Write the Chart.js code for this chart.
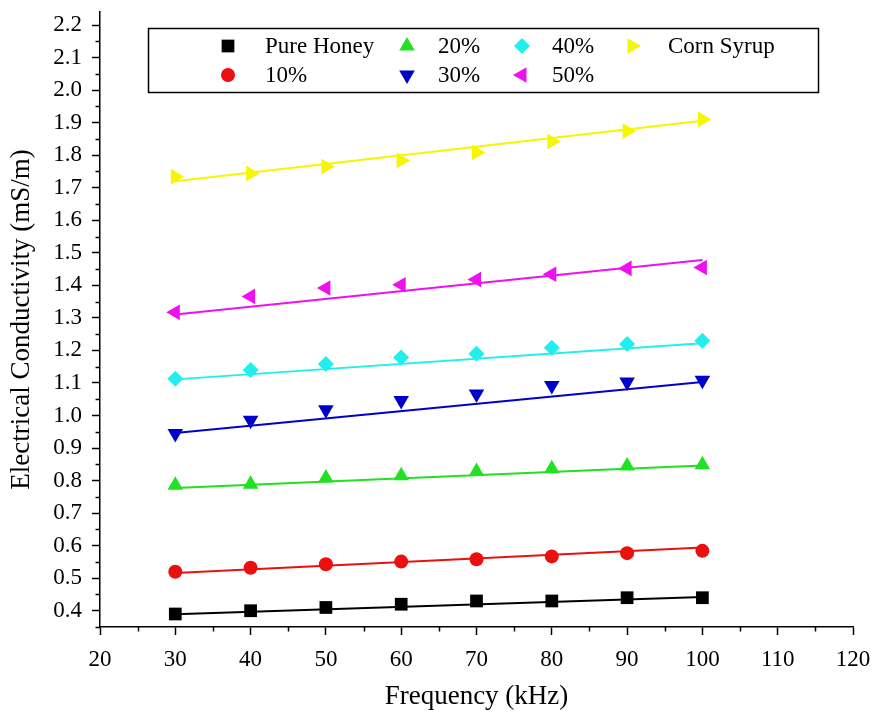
<!DOCTYPE html>
<html>
<head>
<meta charset="utf-8">
<script src="https://cdn.jsdelivr.net/npm/chart.js@4/dist/chart.umd.min.js"></script>
<style>
  html, body { margin: 0; padding: 0; background: #ffffff; }
  #wrap { width: 879px; height: 719px; }
</style>
</head>
<body>
<div id="wrap"><canvas id="c" width="879" height="719"></canvas></div>
<script>
// ---- data ----
const frequencies = [30, 40, 50, 60, 70, 80, 90, 100];
const pureHoney  = [0.390, 0.400, 0.410, 0.420, 0.430, 0.430, 0.440, 0.440];
const honey10    = [0.520, 0.532, 0.543, 0.551, 0.558, 0.567, 0.577, 0.584];
const honey20    = [0.786, 0.789, 0.808, 0.815, 0.828, 0.836, 0.845, 0.849];
const honey30    = [0.945, 0.985, 1.018, 1.046, 1.066, 1.092, 1.103, 1.108];
const honey40    = [1.113, 1.140, 1.158, 1.178, 1.190, 1.208, 1.220, 1.230];
const honey50    = [1.317, 1.366, 1.392, 1.402, 1.418, 1.434, 1.452, 1.455];
const cornSyrup  = [1.734, 1.744, 1.765, 1.784, 1.808, 1.842, 1.874, 1.910];

// fitted line end values (at 30 kHz and 100 kHz)
const fitFreq  = [30, 100];
const fitHoney = [0.389, 0.442];
const fit10    = [0.516, 0.594];
const fit20    = [0.777, 0.846];
const fit30    = [0.946, 1.103];
const fit40    = [1.111, 1.222];
const fit50    = [1.310, 1.478];
const fitCorn  = [1.720, 1.906];

const seriesNames = ['Pure Honey', '10%', '20%', '30%', '40%', '50%', 'Corn Syrup'];

// tick labels
const xTicks = [20, 30, 40, 50, 60, 70, 80, 90, 100, 110, 120];
const yTicks = [0.4, 0.5, 0.6, 0.7, 0.8, 0.9, 1.0, 1.1, 1.2, 1.3, 1.4, 1.5, 1.6, 1.7, 1.8, 1.9, 2.0, 2.1, 2.2];

// ---- styling ----
const FONT = "'Liberation Serif', 'Times New Roman', serif";
const colors = ['#000000', '#ea1010', '#22e022', '#0000cc', '#22eeee', '#ee10ee', '#f6f600'];
const markers = [
  { style: 'rect', rot: 0, r: 9 },
  { style: 'circle', rot: 0, r: 7 },
  { style: 'triangle', rot: 0, r: 9 },
  { style: 'triangle', rot: 180, r: 9 },
  { style: 'rectRot', rot: 0, r: 8 },
  { style: 'triangle', rot: 270, r: 9 },
  { style: 'triangle', rot: 90, r: 9 }
];
const seriesValues = [pureHoney, honey10, honey20, honey30, honey40, honey50, cornSyrup];
const fitValues = [fitHoney, fit10, fit20, fit30, fit40, fit50, fitCorn];

const datasets = [];
seriesValues.forEach((vals, i) => {
  datasets.push({
    label: seriesNames[i] + ' fit',
    data: fitFreq.map((f, k) => ({ x: f, y: fitValues[i][k] })),
    borderColor: colors[i],
    borderWidth: 2,
    pointRadius: 0,
    showLine: true,
    fill: false,
    order: 2
  });
  datasets.push({
    label: seriesNames[i],
    data: frequencies.map((f, k) => ({ x: f, y: vals[k] })),
    showLine: false,
    pointStyle: markers[i].style,
    rotation: markers[i].rot,
    pointRadius: markers[i].r,
    pointBackgroundColor: colors[i],
    pointBorderColor: colors[i],
    pointBorderWidth: 0,
    order: 1
  });
});

// minor ticks (halfway between major ticks) + custom legend
const extrasPlugin = {
  id: 'extras',
  afterDraw(chart) {
    const ctx = chart.ctx;
    const xs = chart.scales.x, ys = chart.scales.y;
    ctx.save();
    ctx.strokeStyle = '#000';
    ctx.lineWidth = 1.5;
    const yMinor = [];
    yMinor.push(yTicks[0] - 0.05);
    for (let k = 0; k < yTicks.length - 1; k++) yMinor.push((yTicks[k] + yTicks[k + 1]) / 2);
    yMinor.forEach(v => {
      if (v < ys.min - 1e-9 || v > ys.max + 1e-9) return;
      const py = Math.round(ys.getPixelForValue(v)) + 0.5;
      ctx.beginPath();
      ctx.moveTo(ys.right, py);
      ctx.lineTo(ys.right - 4.5, py);
      ctx.stroke();
    });
    for (let k = 0; k < xTicks.length - 1; k++) {
      const v = (xTicks[k] + xTicks[k + 1]) / 2;
      const px = Math.round(xs.getPixelForValue(v)) + 0.5;
      ctx.beginPath();
      ctx.moveTo(px, xs.top);
      ctx.lineTo(px, xs.top + 4.5);
      ctx.stroke();
    }
    // legend box
    const box = { l: 148, t: 28, r: 818, b: 92 };
    ctx.lineWidth = 1.5;
    ctx.strokeRect(box.l + 0.5, box.t + 0.5, box.r - box.l, box.b - box.t);
    const colMarkerX = [228, 407, 522, 632];
    const colTextX = [265, 438, 552, 668];
    const rowY = [46, 75];
    ctx.font = '23px ' + FONT;
    ctx.textBaseline = 'middle';
    ctx.textAlign = 'left';
    seriesNames.forEach((name, i) => {
      const col = Math.floor(i / 2), row = i % 2;
      const mx = colMarkerX[col], my = rowY[row];
      ctx.fillStyle = colors[i];
      ctx.strokeStyle = colors[i];
      Chart.helpers.drawPoint(ctx, {
        pointStyle: markers[i].style,
        rotation: markers[i].rot,
        radius: markers[i].r,
        borderWidth: 0
      }, mx, my);
      ctx.fillStyle = '#000';
      ctx.fillText(name, colTextX[col], my + 1);
    });
    ctx.restore();
  }
};

new Chart(document.getElementById('c'), {
  type: 'scatter',
  data: { datasets },
  plugins: [extrasPlugin],
  options: {
    responsive: false,
    animation: false,
    layout: { padding: { left: 0, right: 26, top: 12, bottom: 0 } },
    plugins: { legend: { display: false }, tooltip: { enabled: false } },
    scales: {
      x: {
        type: 'linear',
        min: 20,
        max: 120,
        afterBuildTicks: s => { s.ticks = xTicks.map(v => ({ value: v })); },
        afterFit: s => { s.height = 92; s.paddingLeft = 0; s.paddingRight = 0; },
        grid: { drawOnChartArea: false, drawTicks: true, tickLength: 8, tickColor: '#000', tickWidth: 1.5 },
        border: { display: true, color: '#000', width: 1.5 },
        ticks: { color: '#000', font: { family: FONT, size: 23 }, padding: 11, maxRotation: 0, autoSkip: false },
        title: { display: true, text: 'Frequency (kHz)', color: '#000', font: { family: FONT, size: 27 }, padding: { top: 0, bottom: 6 } }
      },
      y: {
        type: 'linear',
        min: 0.35,
        max: 2.24,
        afterBuildTicks: s => { s.ticks = yTicks.map(v => ({ value: v })); },
        afterFit: s => { s.width = 100; s.paddingTop = 0; s.paddingBottom = 0; },
        grid: { drawOnChartArea: false, drawTicks: true, tickLength: 8, tickColor: '#000', tickWidth: 1.5 },
        border: { display: true, color: '#000', width: 1.5 },
        ticks: { color: '#000', font: { family: FONT, size: 23 }, padding: 10, callback: v => Number(v).toFixed(1) },
        title: { display: true, text: 'Electrical Conductivity (mS/m)', color: '#000', font: { family: FONT, size: 27 }, padding: { top: 6, bottom: 0 } }
      }
    }
  }
});
</script>
</body>
</html>
